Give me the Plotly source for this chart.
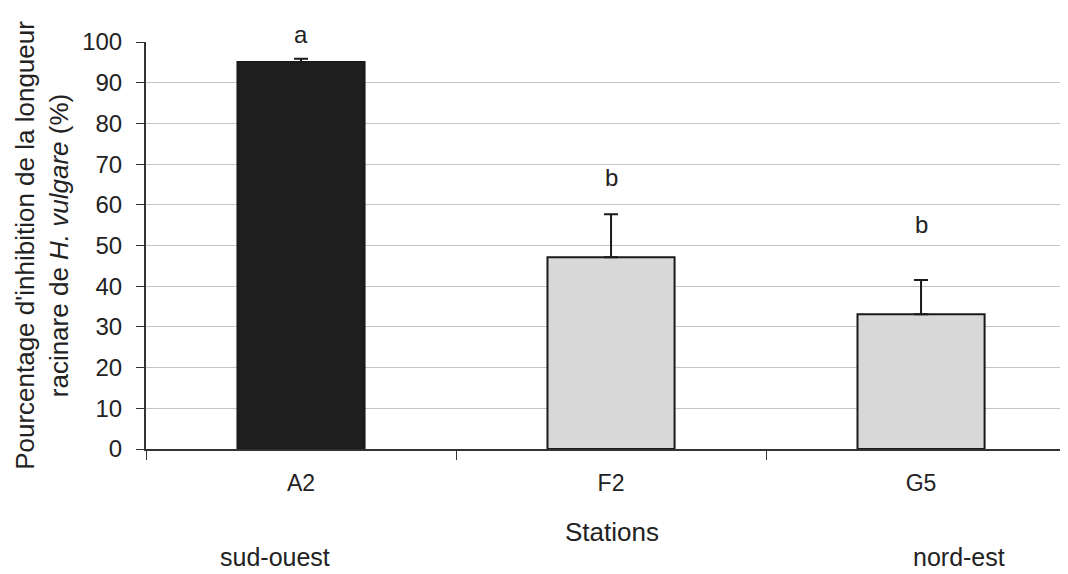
import plotly.graph_objects as go

stations = ["A2", "F2", "G5"]
values = [95.1, 47.1, 33.1]
errors = [0.8, 10.6, 8.4]
letters = ["a", "b", "b"]
letter_y = [101.8, 66.6, 55.2]
bar_colors = ["#1e1e1e", "#d8d8d8", "#d8d8d8"]
y_ticks = [0, 10, 20, 30, 40, 50, 60, 70, 80, 90, 100]
Y_MAX = 100

FONT = "Arial, Liberation Sans, sans-serif"
TXT = "#222"

# The page body adds an 8px offset; size the figure so the plot lands where the reference has it.
W, H = 1060, 566
L, T, B = 138, 34, 125
PW, PH = W - L, H - T - B


def px(xs):
    return (xs - 8 - L) / PW


def py(ys):
    return (H - B - (ys - 8)) / PH


fig = go.Figure()
fig.add_trace(go.Bar(
    x=stations, y=values,
    width=0.41,
    marker=dict(color=bar_colors, line=dict(color="#1a1a1a", width=2)),
    error_y=dict(type="data", array=errors, symmetric=False, arrayminus=[0, 0, 0],
                 color="#1a1a1a", thickness=2, width=7),
    showlegend=False,
))

# significance letters: anchored in data units; a letter above the axis top is shifted by pixels
for s, l, ly in zip(stations, letters, letter_y):
    y_anchor = min(ly, Y_MAX)
    fig.add_annotation(x=s, y=y_anchor, yshift=(ly - y_anchor) * PH / Y_MAX,
                       text=l, showarrow=False, yanchor="middle",
                       font=dict(size=24, color=TXT, family=FONT))

for xs, ys, t, fs in [(612, 532, "Stations", 26), (275, 557, "sud-ouest", 25), (959, 557, "nord-est", 25)]:
    fig.add_annotation(xref="paper", yref="paper", x=px(xs), y=py(ys), text=t,
                       showarrow=False, yanchor="middle", xanchor="center", borderpad=0,
                       font=dict(size=fs, color=TXT, family=FONT))

fig.update_layout(
    width=W, height=H,
    margin=dict(l=L, r=0, t=T, b=B, pad=0),
    paper_bgcolor="white", plot_bgcolor="white",
    font=dict(family=FONT, size=24, color=TXT),
    xaxis=dict(
        type="category", range=[-0.5, 2.474],
        tickson="boundaries", ticks="outside", ticklen=9, tickcolor="#333", tickwidth=1,
        showline=True, linecolor="#333", linewidth=2,
        showgrid=False, tickfont=dict(size=23, family=FONT, color=TXT),
        ticklabelstandoff=12,
        zeroline=False,
    ),
    yaxis=dict(
        range=[0, Y_MAX], tickvals=y_ticks, ticks="outside", ticklen=8,
        tickcolor="#333", tickwidth=1,
        showline=True, linecolor="#333", linewidth=2,
        showgrid=True, gridcolor="#c4c4c4", gridwidth=1,
        zeroline=False,
        ticklabelstandoff=9,
        tickfont=dict(size=24, family=FONT, color=TXT),
        title=dict(text="Pourcentage d'inhibition de la longueur<br>racinare de <i>H. vulgare</i> (%)",
                   font=dict(size=26, family=FONT, color=TXT), standoff=6),
    ),
)

fig.write_html("out.html")
